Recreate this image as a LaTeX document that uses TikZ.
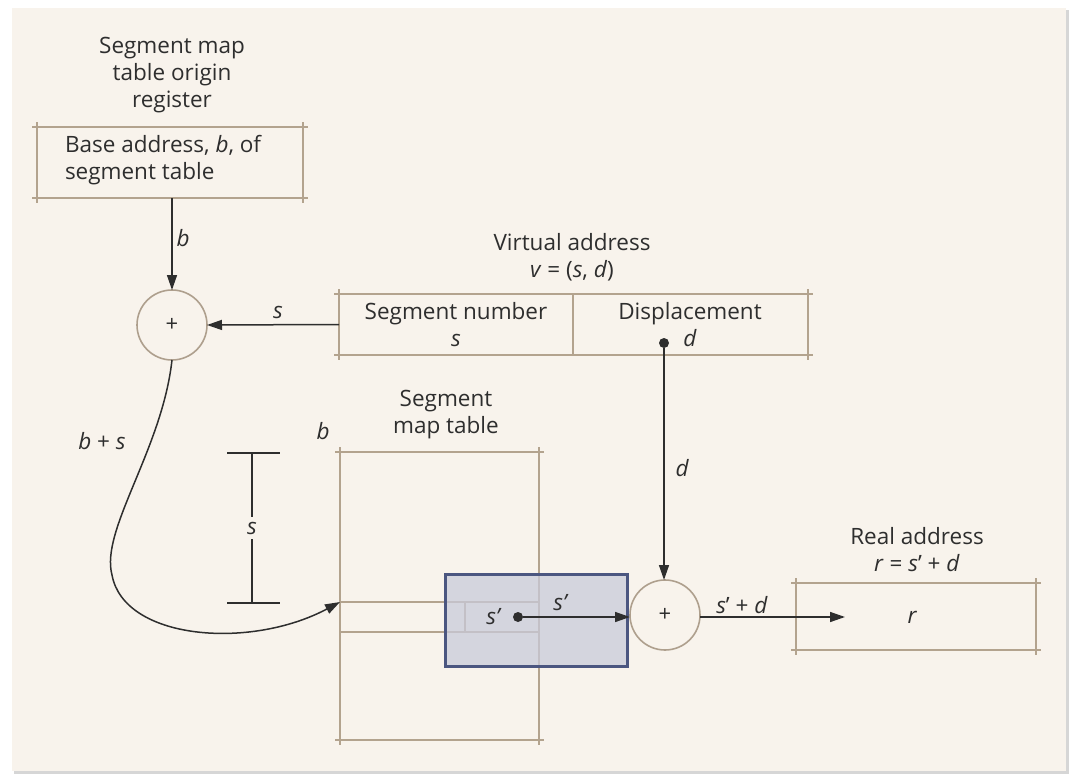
\documentclass[tikz,border=0pt]{standalone}
\usepackage{fontspec}
\setmainfont{Open Sans}
\usetikzlibrary{arrows.meta}
\definecolor{panel}{HTML}{F8F3EC}
\definecolor{shadow}{HTML}{D6D6D6}
\definecolor{tan}{HTML}{B3A38E}
\definecolor{ink}{HTML}{2E2E2E}
\definecolor{hlfill}{HTML}{C9CBDA}
\definecolor{hlborder}{HTML}{4B5680}
\newcommand\xbox[1]{%
  \draw[edge] (#1.north west) -- (#1.north east);
  \draw[edge] (#1.south west) -- (#1.south east);
  \draw[edge] (#1.north west) -- (#1.south west);
  \draw[edge] (#1.north east) -- (#1.south east);}
\begin{document}
\begin{tikzpicture}[x=1pt,y=-1pt,
  txt/.style={font=\fontsize{22.5}{27}\selectfont, text=ink, inner sep=0pt, outer sep=0pt, align=center},
  lbl/.style={txt, font=\fontsize{22.5}{27}\selectfont\itshape},
  edge/.style={draw=tan, line width=1.6pt, shorten <=-5pt, shorten >=-5pt},
  plain/.style={draw=tan, line width=1.6pt},
  boxn/.style n args={2}{minimum width=#1, minimum height=#2, inner sep=0pt, outer sep=0pt, draw=none},
  adder/.style={circle, draw=tan!90!gray, line width=1.6pt, minimum size=70pt, inner sep=0pt, outer sep=0pt, font=\fontsize{22}{24}\selectfont, text=ink},
  conn/.style={draw=ink, line width=1.5pt, -{Triangle[length=15pt,width=10pt]}},
  bar/.style={draw=ink, line width=1.5pt},
  dot/.style={circle, fill=ink, minimum size=10pt, inner sep=0pt, outer sep=0pt}]
\useasboundingbox (0,0) rectangle (1072,776);
\fill[white] (0,0) rectangle (1072,776);
\fill[shadow] (14,10) rectangle (1069,774);
\fill[panel] (12,8) rectangle (1066,771);

% register
\node[txt] (regtitle) at (172,75) {Segment map\\table origin\\register};
\node[boxn={266pt}{71pt}] (reg) at (170,162.5) {};
\xbox{reg}
\node[txt, align=left, anchor=west] (regtext) at (65,160) {Base address, \textit{b}, of\\segment table};

% adder 1
\node[adder] (add1) at (172,325) {+};
\draw[conn] (reg.south -| add1) -- (add1.north);
\node[lbl] (lb) at (183,238) {b};

% virtual address
\node[txt] (vatitle) at (572,257) {Virtual address\\\textit{v} = (\textit{s}, \textit{d})};
\node[boxn={469pt}{61pt}] (va) at (573.5,324.5) {};
\xbox{va}
\coordinate (vadivT) at (573,294);
\coordinate (vadivB) at (573,355);
\draw[plain] (vadivT) -- (vadivB);
\node[txt] (segnum) at (456,325) {Segment number\\\textit{s}};
\node[txt] (disp) at (690,325) {Displacement\\\textit{d}};
\node[dot] (ddot) at (664,343) {};
\draw[conn] (va.west) -- (add1.east);
\node[lbl] (ls) at (278,312) {s};

% segment map table
\node[txt] (smttitle) at (446,415) {Segment\\map table};
\node[lbl] (lb2) at (323,431) {b};
\node[boxn={199pt}{288pt}] (smt) at (439.5,596) {};
\xbox{smt}
\coordinate (rowW) at (340,602);
\coordinate (rowE) at (539,602);
\coordinate (row2W) at (340,632);
\coordinate (row2E) at (539,632);
\draw[plain] (rowW) -- (rowE);
\draw[plain] (row2W) -- (row2E);
\coordinate (cellT) at (465,602);
\coordinate (cellB) at (465,632);
\draw[plain] (cellT) -- (cellB);

% highlight
\node[boxn={182pt}{92pt}, fill=hlfill, fill opacity=0.75, draw=hlborder, line width=3pt] (hl) at (536,620) {};
\node[lbl] (sp) at (493,617) {s’};
\node[dot] (sdot) at (518,617) {};

% adder 2
\node[adder] (add2) at (665,615) {+};
\draw[conn] (ddot) -- (ddot |- add2.north);
\node[lbl] (ld) at (682,468) {d};
\draw[conn] (sdot) -- (add2.west |- sdot);
\node[lbl] (lsp) at (560,603) {s’};

% bracket s
\coordinate (brT) at (252,453);
\coordinate (brB) at (252,603);
\draw[bar] (227,453) -- (280,453);
\draw[bar] (227,603) -- (280,603);
\node[lbl] (lbs) at (252,528) {s};
\draw[bar] (brT) -- ([yshift=5pt]lbs.north);
\draw[bar] ([yshift=-5pt]lbs.south) -- (brB);

% curve b+s
\draw[conn] (add1.south) .. controls (162,450) and (100,530) .. (112,575)
  .. controls (124,640) and (250,650) .. (rowW);
\node[txt] (lbps) at (102,441) {\textit{b} + \textit{s}};

% real address
\node[txt] (ratitle) at (917,550) {Real address\\\textit{r} = \textit{s}’ + \textit{d}};
\node[boxn={240pt}{67pt}] (ra) at (916,616.5) {};
\xbox{ra}
\coordinate (raend) at (845,617);
\draw[conn] (add2.east |- raend) -- (raend);
\node[txt] (lspd) at (742,605) {\textit{s}’ + \textit{d}};
\node[lbl] (lr) at (912,617) {r};
\end{tikzpicture}
\end{document}
